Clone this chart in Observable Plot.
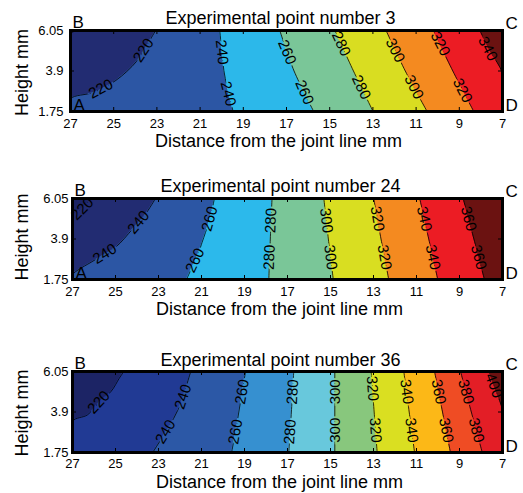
<!DOCTYPE html>
<html>
<head>
<meta charset="utf-8">
<script src="https://cdn.jsdelivr.net/npm/d3@7"></script>
<script src="https://cdn.jsdelivr.net/npm/@observablehq/plot@0.6"></script>
<style>
  body { margin: 0; background: #fff; }
  #chart svg { display: block; }
</style>
</head>
<body>
<div id="chart"></div>
<script>
// ---------- shared axis data ----------
const xTicks = [27, 25, 23, 21, 19, 17, 15, 13, 11, 9, 7];
const yTicks = [1.75, 3.9, 6.05];
const xLabel = "Distance from the joint line mm";
const yLabel = "Height mm";
const titles = ["Experimental point number 3", "Experimental point number 24", "Experimental point number 36"];

// ---------- panel 1 (point 3) ----------
const p1Levels = [200, 220, 240, 260, 280, 300, 320, 340];
const p1Colors = ["#1c2466", "#222c72", "#2c56a4", "#2cb8ea", "#7ac698", "#d9dd21", "#f48a20", "#ec1c24", "#6b1211"];
const p1Lines = [
  [[27, 1.75], [27, 5.87], [26.66, 6.05]],
  [[27, 1.75], [27, 2.42], [25.92, 2.77], [24.9, 3.4], [23.95, 4.4], [23.45, 5.3], [23.06, 6.05]],
  [[19.47, 1.75], [19.75, 3.04], [19.9, 3.93], [19.98, 4.81], [20.09, 6.05]],
  [[15.74, 1.75], [16.65, 3.9], [17.31, 6.05]],
  [[12.99, 1.75], [13.9, 3.9], [14.76, 6.05]],
  [[10.49, 1.75], [11.5, 3.9], [12.39, 6.05]],
  [[8.33, 1.75], [9.3, 3.9], [10.21, 6.05]],
  [[7, 1.75], [7, 3.75], [7.55, 4.9], [8.05, 6.05]]
];
const p1Labels = [
  ["220", 25.6, 2.95, -28], ["220", 23.62, 4.99, -57],
  ["240", 19.99, 4.9, 84], ["240", 19.7, 2.69, 76],
  ["260", 16.97, 4.9, 67], ["260", 16.17, 2.77, 67],
  ["280", 14.47, 5.34, 65], ["280", 13.54, 3.04, 65],
  ["300", 11.97, 4.99, 63], ["300", 11.1, 3.04, 63],
  ["320", 9.88, 5.34, 63], ["320", 8.85, 2.86, 63],
  ["340", 7.68, 5.08, 63]
];

// ---------- panel 2 (point 24) ----------
const p2Levels = [220, 240, 260, 280, 300, 320, 340, 360];
const p2Colors = ["#1c2466", "#222c72", "#2c56a4", "#2cb9eb", "#7ac698", "#d9de21", "#f48a20", "#ec1c24", "#6b1211"];
const p2Lines = [
  [[27, 1.75], [27, 5.05], [26.5, 5.6], [26.1, 6.05]],
  [[27, 1.75], [27, 2.0], [26.0, 2.76], [25.0, 3.46], [24.2, 4.44], [23.65, 5.15], [23.14, 6.05]],
  [[21.7, 1.75], [21.13, 3.2], [20.97, 3.73], [20.66, 4.79], [20.5, 5.5], [20.4, 6.05]],
  [[17.87, 1.75], [17.8, 3.9], [17.72, 6.05]],
  [[14.87, 1.75], [15.1, 3.9], [15.31, 6.05]],
  [[12.29, 1.75], [12.65, 3.9], [12.99, 6.05]],
  [[10.01, 1.75], [10.43, 3.9], [10.85, 6.05]],
  [[7.84, 1.75], [8.33, 3.9], [8.83, 6.05]]
];
const p2Labels = [
  ["220", 26.55, 5.5, -45],
  ["240", 23.93, 4.79, -50], ["240", 25.5, 3.11, -32],
  ["260", 20.62, 4.97, -75], ["260", 21.3, 2.76, -65],
  ["280", 17.77, 4.88, -88], ["280", 17.84, 2.93, -88],
  ["300", 15.2, 4.88, 83], ["300", 15.0, 2.93, 83],
  ["320", 12.82, 4.97, 80], ["320", 12.49, 2.93, 80],
  ["340", 10.64, 4.97, 77.5], ["340", 10.24, 2.93, 77.5],
  ["360", 8.58, 4.97, 75], ["360", 8.11, 2.93, 75]
];

// ---------- panel 3 (point 36) ----------
const p3Levels = [220, 240, 260, 280, 300, 320, 340, 360, 380, 400];
const p3Colors = ["#1c2465", "#213a94", "#2c58a6", "#3690d0", "#68c8dc", "#88c77d", "#dadf21", "#fcb817", "#ef4c24", "#e31e26", "#6b1111"];
const p3Lines = [
  [[27, 1.75], [27, 3.4], [26.3, 3.75], [25.78, 4.4], [25.2, 5.0], [24.82, 5.7], [24.61, 6.05]],
  [[23.27, 1.75], [22.8, 2.6], [22.3, 3.55], [21.95, 4.4], [21.74, 5.15], [21.5, 6.05]],
  [[19.6, 1.75], [19.35, 3.3], [19.15, 4.7], [18.95, 6.05]],
  [[16.94, 1.75], [16.82, 3.9], [16.71, 6.05]],
  [[14.8, 1.75], [14.8, 6.05]],
  [[12.83, 1.75], [12.97, 3.9], [13.11, 6.05]],
  [[11.09, 1.75], [11.34, 3.9], [11.59, 6.05]],
  [[9.42, 1.75], [9.79, 3.9], [10.16, 6.05]],
  [[7.94, 1.75], [8.45, 3.9], [8.95, 6.05]],
  [[7, 1.75], [7, 3.95], [7.3, 5.0], [7.64, 6.05]]
];
const p3Labels = [
  ["220", 25.78, 4.42, -47],
  ["240", 21.86, 4.71, -72], ["240", 22.67, 2.85, -59],
  ["260", 19.11, 4.97, -80], ["260", 19.42, 2.85, -80],
  ["280", 16.76, 4.97, -86.5], ["280", 16.88, 2.85, -86.5],
  ["300", 14.8, 4.97, -90], ["300", 14.8, 2.93, -90],
  ["320", 13.05, 5.15, 86], ["320", 12.91, 2.93, 86],
  ["340", 11.46, 4.97, 82.5], ["340", 11.23, 2.93, 82.5],
  ["360", 9.97, 4.97, 79], ["360", 9.62, 2.93, 79],
  ["380", 8.7, 4.97, 75], ["380", 8.22, 2.93, 75],
  ["400", 7.4, 5.3, 70]
];

const FONT = '"Liberation Sans", Arial, Helvetica, sans-serif';
const W = 523;

function panel(cfg, idx) {
  const { levels, colors, lines, labels, title, height, mt, mb, ml, mr, yPad, xPad, showA, titleDy, titleDx, yLabDy, xLabDy } = cfg;
  const plotH = height - mt - mb;
  const plotW = W - ml - mr;
  const xEnd = xTicks[xTicks.length - 1];
  const marks = [];
  marks.push(Plot.frame({ fill: colors[0], stroke: null }));
  lines.forEach((pts, i) => {
    const rows = pts.map(([x, y]) => ({ x, y, level: levels[i] }));
    marks.push(Plot.areaX(rows, { y: "y", x1: "x", x2: () => xEnd, fill: colors[i + 1], curve: "catmull-rom", clip: true }));
  });
  lines.forEach((pts, i) => {
    const rows = pts.map(([x, y]) => ({ x, y, level: levels[i] }));
    marks.push(Plot.line(rows, { x: "x", y: "y", stroke: "black", strokeWidth: 0.8, curve: "catmull-rom", clip: true }));
  });
  // inner ticks
  marks.push(Plot.tickX(xTicks, { x: d => d, stroke: "black", insetTop: plotH - 4 }));
  marks.push(Plot.tickX(xTicks, { x: d => d, stroke: "black", insetBottom: plotH - 4 }));
  marks.push(Plot.tickY(yTicks, { y: d => d, stroke: "black", insetRight: plotW - 4 }));
  marks.push(Plot.tickY(yTicks, { y: d => d, stroke: "black", insetLeft: plotW - 4 }));
  marks.push(Plot.frame({ stroke: "black", strokeWidth: 3 }));
  // axes
  marks.push(Plot.axisX({ ticks: xTicks, tickSize: 0, tickPadding: xPad, label: null, fontSize: 13 }));
  marks.push(Plot.axisY({ ticks: yTicks, tickSize: 0, tickPadding: yPad, label: null, fontSize: 13, tickFormat: d => String(d) }));
  // contour labels
  const labRows = labels.map(([t, x, y, r]) => ({ t, x, y, r }));
  marks.push(Plot.text(labRows, { x: "x", y: "y", text: "t", rotate: "r", fontSize: 15, fill: "black" }));
  // titles and corner letters
  marks.push(Plot.text([title], { frameAnchor: "top", lineAnchor: "bottom", dy: titleDy, dx: titleDx, fontSize: 18 }));
  marks.push(Plot.text([xLabel], { frameAnchor: "bottom", lineAnchor: "bottom", dy: xLabDy, dx: -8, fontSize: 18 }));
  marks.push(Plot.text([yLabel], { frameAnchor: "left", textAnchor: "middle", lineAnchor: "middle", rotate: -90, dx: 22 - ml, dy: yLabDy, fontSize: 18 }));
  marks.push(Plot.text(["B"], { frameAnchor: "top-left", textAnchor: "start", lineAnchor: "bottom", dx: 2, dy: -2.5, fontSize: 17 }));
  marks.push(Plot.text(["C"], { frameAnchor: "top-right", textAnchor: "start", lineAnchor: "bottom", dx: 3, dy: -2, fontSize: 17 }));
  if (showA) marks.push(Plot.text(["A"], { frameAnchor: "bottom-left", textAnchor: "start", lineAnchor: "bottom", dx: 3, dy: -1, fontSize: 17 }));
  marks.push(Plot.text(["D"], { frameAnchor: "bottom-right", textAnchor: "start", lineAnchor: "bottom", dx: 3, dy: -1, fontSize: 17 }));

  const svg = Plot.plot({
    width: W, height,
    marginTop: mt, marginBottom: mb, marginLeft: ml, marginRight: mr,
    x: { domain: [xTicks[0], xEnd] },
    y: { domain: [yTicks[0], yTicks[yTicks.length - 1]] },
    style: { fontFamily: FONT, fontSize: "13px", background: "white", color: "black", overflow: "visible" },
    marks
  });

  // break contour lines under their labels (like clabel)
  const s = d3.select(svg);
  const id = "lblmask" + idx;
  const defs = s.insert("defs", ":first-child");
  const mask = defs.append("mask").attr("id", id).attr("maskUnits", "userSpaceOnUse")
    .attr("x", 0).attr("y", 0).attr("width", W).attr("height", height);
  mask.append("rect").attr("width", W).attr("height", height).attr("fill", "white");
  s.selectAll("g[aria-label='text']").each(function () {
    const all = this.querySelectorAll("text");
    if (all.length && Array.from(all).every(t => /^\d+$/.test(t.textContent))) {
      const clone = this.cloneNode(true);
      clone.setAttribute("fill", "black");
      clone.setAttribute("stroke", "black");
      clone.setAttribute("stroke-width", "4");
      clone.querySelectorAll("text").forEach(t => { t.setAttribute("fill", "black"); });
      mask.node().appendChild(clone);
    }
  });
  s.selectAll("g[aria-label='line']").attr("mask", `url(#${id})`);
  return svg;
}

const cfgs = [
  { levels: p1Levels, colors: p1Colors, lines: p1Lines, labels: p1Labels, title: titles[0],
    height: 160, mt: 30, mb: 49, ml: 70, mr: 21, yPad: 7, xPad: 7, showA: true, titleDy: -6.5, titleDx: -6, yLabDy: 1.5, xLabDy: 35.5 },
  { levels: p2Levels, colors: p2Colors, lines: p2Lines, labels: p2Labels, title: titles[1],
    height: 170, mt: 38, mb: 51, ml: 72, mr: 21, yPad: 4, xPad: 7, showA: true, titleDy: -7, titleDx: -7, yLabDy: -2, xLabDy: 35.5 },
  { levels: p3Levels, colors: p3Colors, lines: p3Lines, labels: p3Labels, title: titles[2],
    height: 163, mt: 41, mb: 41, ml: 72, mr: 21, yPad: 4, xPad: 6.5, showA: false, titleDy: -6, titleDx: -7, yLabDy: 1, xLabDy: 35.5 }
];

const root = document.getElementById("chart");
cfgs.forEach((c, i) => root.appendChild(panel(c, i)));
</script>
</body>
</html>
